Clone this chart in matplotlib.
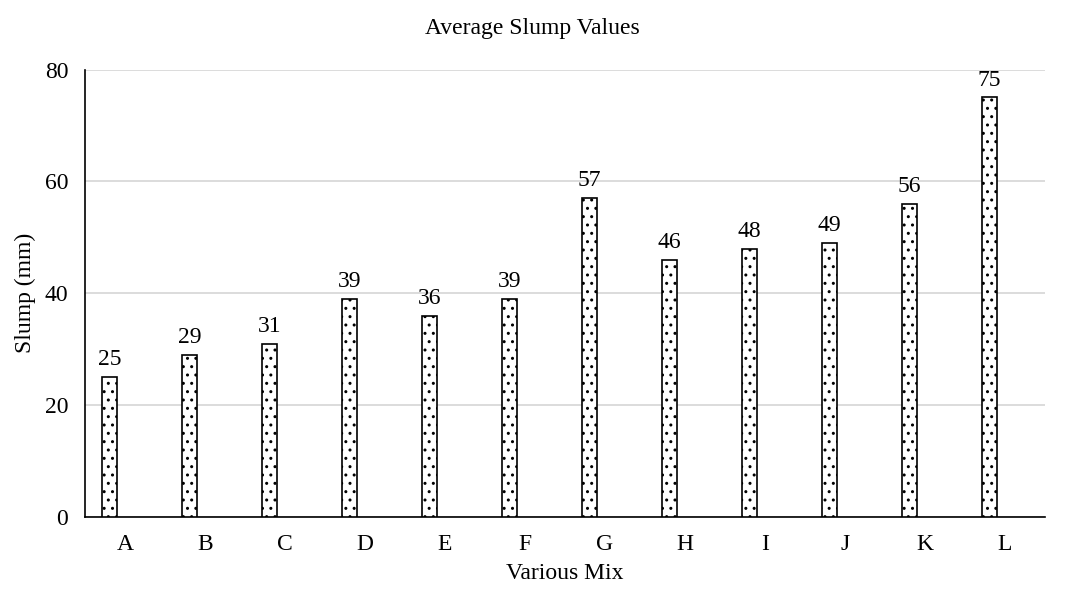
import numpy as np
import matplotlib.pyplot as plt

plt.rcParams['font.family'] = ['Liberation Serif', 'DejaVu Serif']
plt.rcParams['hatch.linewidth'] = 1.0

mixes = ['A', 'B', 'C', 'D', 'E', 'F', 'G', 'H', 'I', 'J', 'K', 'L']
slump = [25, 29, 31, 39, 36, 39, 57, 46, 48, 49, 56, 75]

x = np.arange(len(mixes))
bar_w = 0.19
offset = -0.19   # bars sit left of the category centre

fig = plt.figure(figsize=(10.65, 5.91), dpi=100)
ax = fig.add_axes((0.0798, 0.1252, 0.9012, 0.7572))

bars = ax.bar(x + offset, slump, width=bar_w, color='white', edgecolor='black',
              linewidth=1.2, hatch='..', zorder=3)

for b, v in zip(bars, slump):
    ax.annotate(str(v), (b.get_x() + b.get_width() / 2, v), xytext=(0, 5),
                textcoords='offset points', ha='center', va='bottom', fontsize=17)

ax.set_xlim(-0.5, len(mixes) - 0.5)
ax.set_ylim(0, 80)
ax.set_yticks([0, 20, 40, 60, 80])
ax.set_xticks(x)
ax.set_xticklabels(mixes)
ax.tick_params(axis='both', length=0, labelsize=17)
ax.tick_params(axis='x', pad=12)
ax.tick_params(axis='y', pad=12)

ax.grid(axis='y', color='#d9d9d9', linewidth=1.3, zorder=0)
for s in ['top', 'right']:
    ax.spines[s].set_visible(False)
for s in ['left', 'bottom']:
    ax.spines[s].set_color('black')
    ax.spines[s].set_linewidth(1.2)

ax.set_xlabel('Various Mix', fontsize=17, labelpad=6)
ax.set_ylabel('Slump (mm)', fontsize=17, labelpad=6)
fig.text(0.5, 0.952, 'Average Slump Values', fontsize=17, ha='center', va='center')

fig.savefig('out.png', dpi=100)
